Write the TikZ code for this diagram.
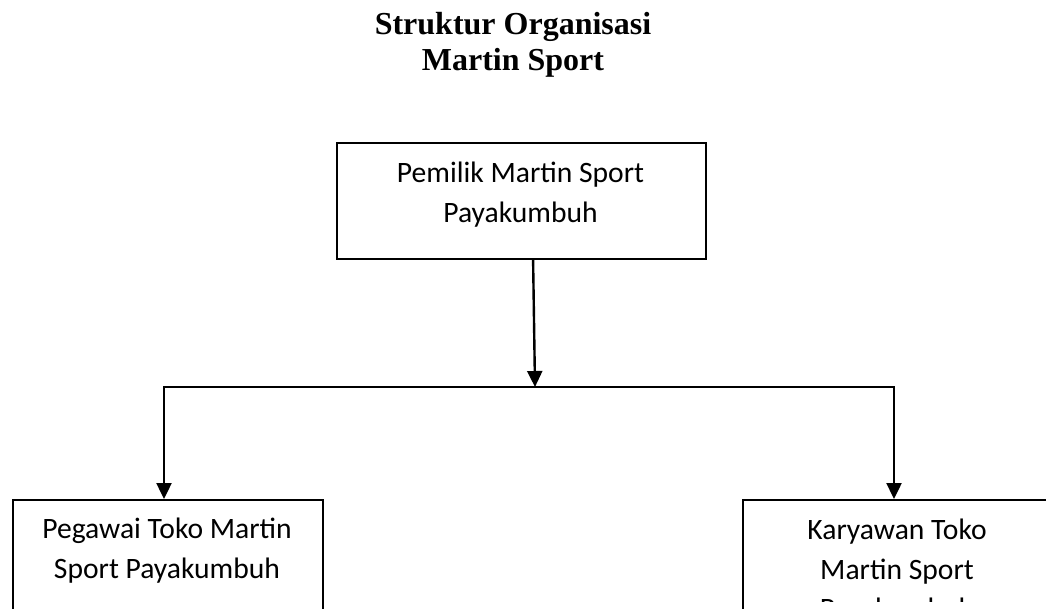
\documentclass[tikz,border=0pt]{standalone}
\usepackage{fontspec}
\setmainfont{Liberation Serif}
\newfontfamily\boxfont{Carlito}
\usetikzlibrary{arrows.meta}
\begin{document}
\begin{tikzpicture}[x=1pt,y=-1pt,
  boxr/.style={draw=black, line width=2.2pt, rectangle, inner sep=0pt, anchor=north west},
  boxtxt/.style={align=center, inner sep=0pt, anchor=base, font=\boxfont\fontsize{29.6}{39.5}\selectfont},
  titletxt/.style={align=center, inner sep=0pt, anchor=base, font=\bfseries\fontsize{32}{36}\selectfont},
  conn/.style={line width=2.4pt},
  arr/.style={line width=2.4pt, -{Triangle[width=15pt,length=16pt]}}]
\useasboundingbox (0,0) rectangle (1046,608);
\clip (0,0) rectangle (1046,608);
\fill[white] (0,0) rectangle (1046,608);
% title
\node[titletxt] (title) at (513,70) {Struktur Organisasi\\Martin Sport};
% boxes
\node[boxr, minimum width=369pt, minimum height=116pt] (pem) at (336,142) {};
\node[boxtxt] (pemT) at (520.5,222) {Pemilik Martin Sport\\Payakumbuh};
\node[boxr, minimum width=310pt, minimum height=116pt] (peg) at (12,499) {};
\node[boxtxt] (pegT) at (167,578) {Pegawai Toko Martin\\Sport Payakumbuh};
\node[boxr, minimum width=310pt, minimum height=155pt] (kar) at (742,499) {};
\begin{scope}
\clip (744,501) rectangle (1046,601);
\node[boxtxt] (karT) at (897,618.5) {Karyawan Toko\\Martin Sport\\Payakumbuh};
\end{scope}
% connectors
\coordinate (j) at (535,387);
\coordinate (lt) at (164,387);
\coordinate (rt) at (894,387);
\draw[arr] ([xshift=11.5pt]pem.south) -- (j);
\draw[conn, line cap=rect] (lt) -- (rt);
\draw[arr] (lt) -- (peg.north -| lt);
\draw[arr] (rt) -- (kar.north -| rt);
\end{tikzpicture}
\end{document}
